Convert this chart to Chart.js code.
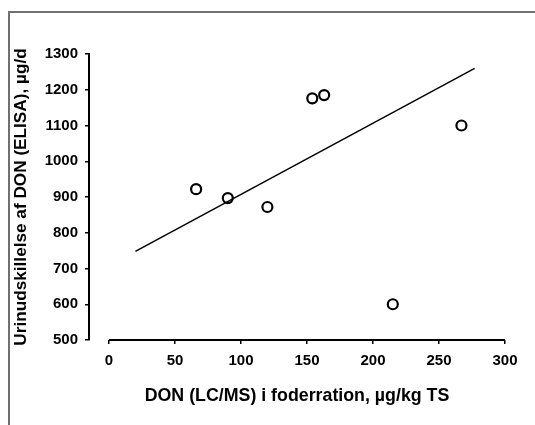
<!DOCTYPE html>
<html lang="da">
<head>
    <meta charset="UTF-8">
    <title>DON i foderration vs. urinudskillelse</title>
    <script src="https://cdn.jsdelivr.net/npm/chart.js"></script>
    <style>
        body {
            margin: 0;
            padding: 0;
            background-color: #fff;
        }
        #chart-container {
            width: 535px;
            height: 425px;
        }
    </style>
</head>
<body>
    <div id="chart-container">
        <canvas id="donChart" width="535" height="425"></canvas>
    </div>

    <script>
        // målte punkter
        const donFeed = [66, 90, 120, 154, 163, 267, 215];
        const urinDon = [922, 897, 872, 1176, 1185, 1100, 600];

        // tendenslinje, endepunkter
        const trendX = [20, 277];
        const trendY = [748, 1260];

        const xTicks = [0, 50, 100, 150, 200, 250, 300];
        const yTicks = [500, 600, 700, 800, 900, 1000, 1100, 1200, 1300];

        const xTitle = 'DON (LC/MS) i foderration, µg/kg TS';
        const yTitle = 'Urinudskillelse af DON (ELISA), µg/d';

        const fontName = '"Liberation Sans", Arial, sans-serif';

        // ramme omkring diagrammet + x-aksens linje (kun fra 0 til 300)
        const framePlugin = {
            id: 'frame',
            beforeDraw(chart) {
                const ctx = chart.ctx;
                ctx.save();
                ctx.strokeStyle = '#707070';
                ctx.lineWidth = 2;
                ctx.beginPath();
                ctx.moveTo(9, 425);
                ctx.lineTo(9, 12);
                ctx.lineTo(535, 12);
                ctx.stroke();
                ctx.restore();
            },
            afterDraw(chart) {
                const ctx = chart.ctx;
                const x = chart.scales.x;
                const y = chart.scales.y;
                const yPos = y.getPixelForValue(yTicks[0]);
                ctx.save();
                ctx.strokeStyle = '#000';
                ctx.lineWidth = 2;
                ctx.beginPath();
                ctx.moveTo(x.getPixelForValue(xTicks[0]), yPos);
                ctx.lineTo(x.getPixelForValue(xTicks[xTicks.length - 1]), yPos);
                ctx.stroke();
                ctx.restore();
            }
        };

        const ctx = document.getElementById('donChart').getContext('2d');

        new Chart(ctx, {
            type: 'scatter',
            data: {
                datasets: [
                    {
                        label: 'Målinger',
                        data: donFeed.map((v, i) => ({ x: v, y: urinDon[i] })),
                        pointStyle: 'circle',
                        pointRadius: 5,
                        pointBorderWidth: 2.2,
                        borderColor: '#000',
                        backgroundColor: 'rgba(0,0,0,0)',
                        order: 1
                    },
                    {
                        label: 'Tendens',
                        type: 'line',
                        data: trendX.map((v, i) => ({ x: v, y: trendY[i] })),
                        borderColor: '#000',
                        borderWidth: 1.5,
                        pointRadius: 0,
                        fill: false,
                        order: 2
                    }
                ]
            },
            options: {
                responsive: false,
                animation: false,
                layout: {
                    padding: { left: 0, top: 54, right: 30, bottom: 0 }
                },
                plugins: {
                    legend: { display: false },
                    tooltip: { enabled: false }
                },
                scales: {
                    x: {
                        type: 'linear',
                        min: -15.15,
                        max: 300,
                        afterBuildTicks(scale) {
                            scale.ticks = xTicks.map(v => ({ value: v }));
                        },
                        afterFit(scale) {
                            scale.height = 85;
                        },
                        border: { display: false },
                        grid: {
                            drawOnChartArea: false,
                            drawTicks: true,
                            tickLength: 4,
                            color: '#000',
                            lineWidth: 1.5
                        },
                        ticks: {
                            color: '#000',
                            padding: 8,
                            maxRotation: 0,
                            callback: v => String(v),
                            font: { family: fontName, size: 15, weight: 'bold' }
                        },
                        title: {
                            display: true,
                            text: xTitle,
                            color: '#000',
                            padding: { top: 0, bottom: 18 },
                            font: { family: fontName, size: 17.8, weight: 'bold' }
                        }
                    },
                    y: {
                        type: 'linear',
                        min: yTicks[0],
                        max: yTicks[yTicks.length - 1],
                        afterBuildTicks(scale) {
                            scale.ticks = yTicks.map(v => ({ value: v }));
                        },
                        afterFit(scale) {
                            scale.width = 89;
                        },
                        border: { display: true, color: '#000', width: 2 },
                        grid: {
                            drawOnChartArea: false,
                            drawTicks: true,
                            tickLength: 4,
                            color: '#000',
                            lineWidth: 1.5
                        },
                        ticks: {
                            color: '#000',
                            padding: 7,
                            callback: v => String(v),
                            font: { family: fontName, size: 15, weight: 'bold' }
                        },
                        title: {
                            display: true,
                            text: yTitle,
                            color: '#000',
                            padding: { top: 11, bottom: 0 },
                            font: { family: fontName, size: 17.2, weight: 'bold' }
                        }
                    }
                }
            },
            plugins: [framePlugin]
        });
    </script>
</body>
</html>
